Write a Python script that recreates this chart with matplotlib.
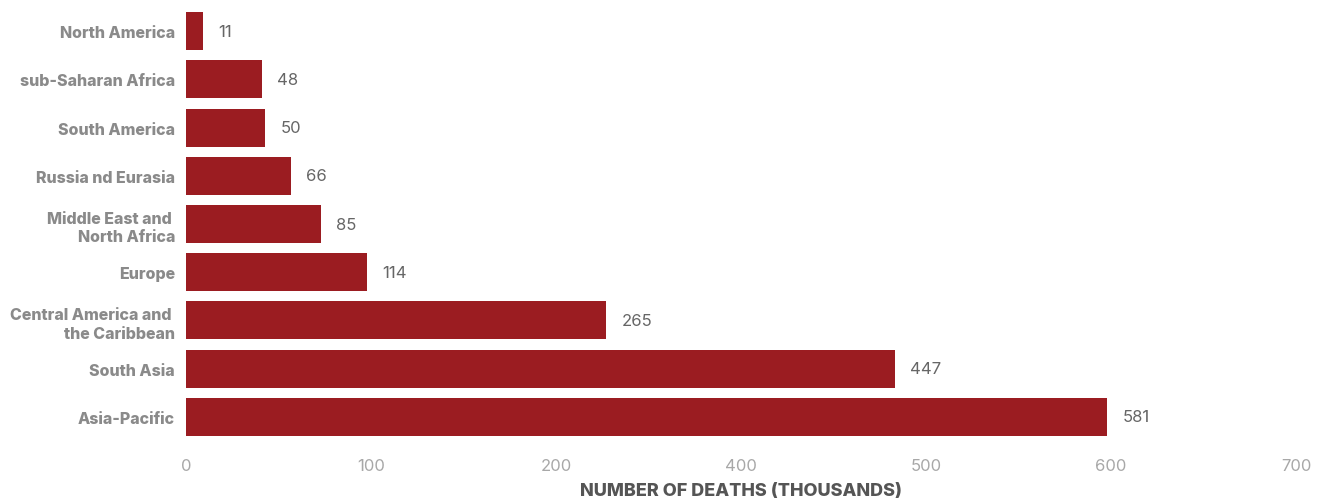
import matplotlib
matplotlib.use("Agg")
import matplotlib.pyplot as plt
import numpy as np

categories = ["North America", "sub-Saharan Africa", "South America", "Russia nd Eurasia",
              "Middle East and \nNorth Africa", "Europe", "Central America and \nthe Caribbean",
              "South Asia", "Asia-Pacific"]
values = [11, 48, 50, 66, 85, 114, 265, 447, 581]
tick_labels = ["0", "100", "200", "400", "500", "600", "700"]
x_max = 700

fig = plt.figure(figsize=(13.27, 5.02), dpi=100)
ax = fig.add_axes([186/1327, 1-442/502, (1296-186)/1327, 434/502])

y = np.arange(len(categories))
ax.barh(y, values, height=0.79, color="#9B1C21")
ax.set_ylim(len(categories)-0.5, -0.5)
ax.set_xlim(0, x_max)

for yi, v in zip(y, values):
    ax.annotate(str(v), (v, yi), xytext=(11, 0), textcoords="offset points",
                ha="left", va="center", fontsize=12, color="#666666", family="Inter")

ax.set_yticks(y)
ax.set_yticklabels(categories, fontsize=11.5, fontweight="heavy", color="#8a8a8a",
                   family="Inter", linespacing=1.3)
ax.set_xticks(np.linspace(0, x_max, len(tick_labels)))
ax.set_xticklabels(tick_labels, fontsize=12, color="#a8a8a8", family="Inter")
ax.tick_params(axis="both", length=0)
ax.tick_params(axis="y", pad=8)
ax.tick_params(axis="x", pad=12)
for s in ax.spines.values():
    s.set_visible(False)

ax.set_xlabel("NUMBER OF DEATHS (THOUSANDS)", fontsize=13, fontweight="heavy",
              color="#555555", family="Inter", labelpad=7)

fig.savefig("out.png", dpi=100)
